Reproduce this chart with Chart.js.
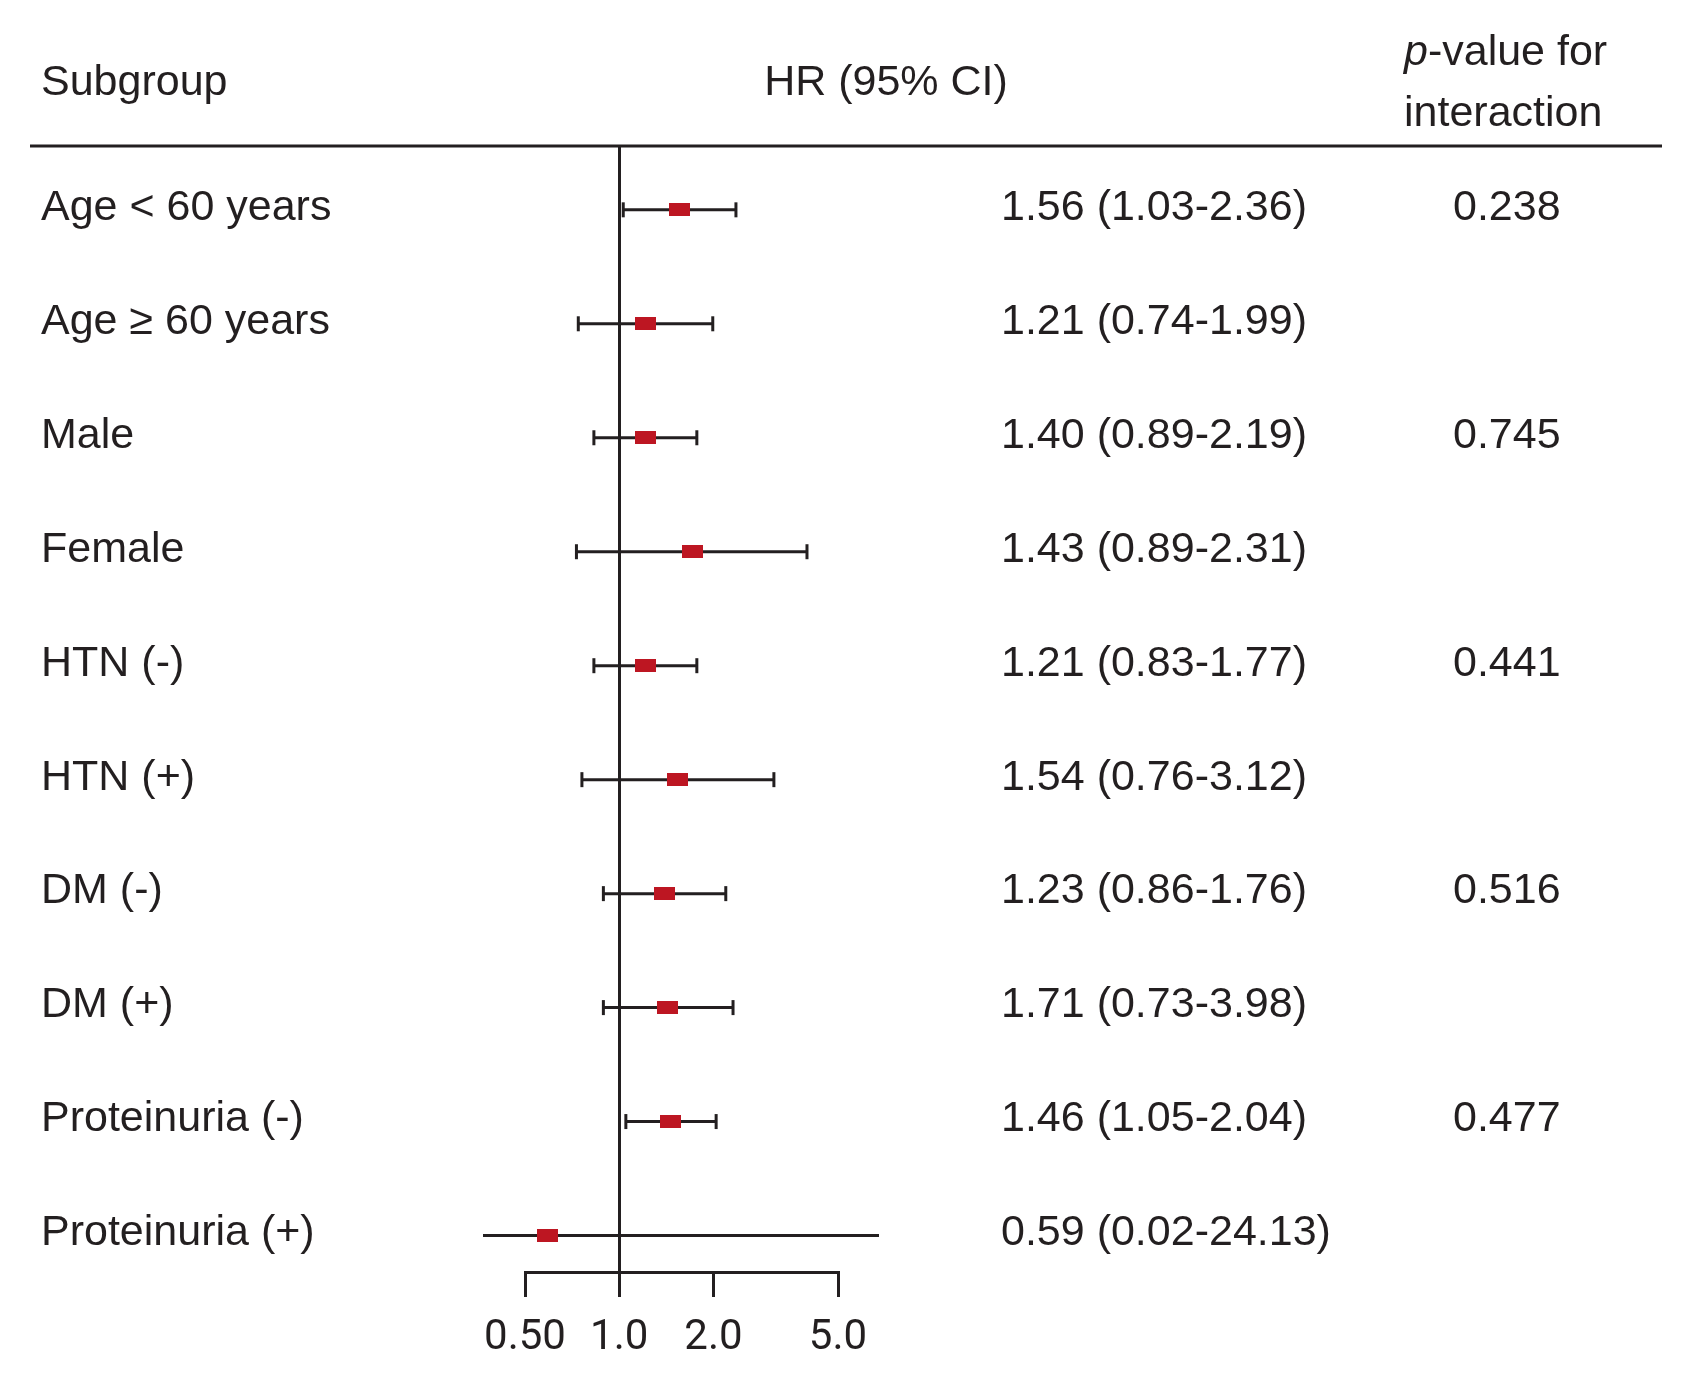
<!DOCTYPE html>
<html>
<head>
<meta charset="utf-8">
<title>Subgroup hazard ratios</title>
<script src="https://cdn.jsdelivr.net/npm/chart.js@4.4.1/dist/chart.umd.min.js"></script>
<style>
  html, body { margin: 0; padding: 0; background: #fff; }
  #wrap { width: 1694px; height: 1380px; }
</style>
</head>
<body>
<div id="wrap"><canvas id="forest" width="1694" height="1380"></canvas></div>
<script>
// Rows, top to bottom.
var subgroups = [
	'Age < 60 years', 'Age \u2265 60 years', 'Male', 'Female', 'HTN (-)',
	'HTN (+)', 'DM (-)', 'DM (+)', 'Proteinuria (-)', 'Proteinuria (+)'
];

// Printed columns.
var hrLabels = [
	'1.56 (1.03-2.36)', '1.21 (0.74-1.99)', '1.40 (0.89-2.19)', '1.43 (0.89-2.31)', '1.21 (0.83-1.77)',
	'1.54 (0.76-3.12)', '1.23 (0.86-1.76)', '1.71 (0.73-3.98)', '1.46 (1.05-2.04)', '0.59 (0.02-24.13)'
];
var pInteraction = ['0.238', '', '0.745', '', '0.441', '', '0.516', '', '0.477', ''];

// Marks as they sit in the plot (read off the picture, not the printed column).
var hrPlotted = [1.56, 1.21, 1.21, 1.71, 1.21, 1.54, 1.40, 1.43, 1.46, 0.59];
var ciLower   = [1.03, 0.74, 0.83, 0.73, 0.83, 0.76, 0.89, 0.89, 1.05, 0.02];
var ciUpper   = [2.36, 1.99, 1.77, 3.98, 1.77, 3.12, 2.19, 2.31, 2.04, 24.13];

// Log axis.
var xTicks = [0.5, 1, 2, 5];
var xTickLabels = ['0.50', '1.0', '2.0', '5.0'];

(function () {
	'use strict';

	var INK = '#231f20';
	var RED = '#bd1622';
	var TEXT_FAMILY = '"Liberation Sans", Arial, sans-serif';
	var LABEL_FONT = { family: TEXT_FAMILY, size: 43 };

	var rows = subgroups.map(function (_, i) { return i; });

	// Point estimate marker: small filled rectangle.
	var box = document.createElement('canvas');
	box.width = 21;
	box.height = 13;
	var bctx = box.getContext('2d');
	bctx.fillStyle = RED;
	bctx.fillRect(0, 0, 21, 13);

	// Lets the open-ended CI run a little past the axis ends.
	var clipWide = { left: 42, right: 41, top: 20, bottom: 20 };

	function rowAxis(position, labels, width, padding, weight) {
		return {
			type: 'linear',
			position: position,
			reverse: true,
			offset: false,
			min: -0.56,
			max: 9.32,
			weight: weight,
			grid: { display: false, drawTicks: false, offset: false },
			border: { display: false },
			afterBuildTicks: function (scale) {
				scale.ticks = rows.map(function (v) { return { value: v }; });
			},
			afterFit: function (scale) {
				// fixed column width; no extra room above/below for labels
				scale.width = width;
				scale.paddingTop = 0;
				scale.paddingBottom = 0;
			},
			ticks: {
				autoSkip: false,
				padding: padding,
				crossAlign: position === 'left' ? 'far' : 'near',
				labelOffset: -2,
				color: INK,
				font: LABEL_FONT,
				callback: function (value) {
					return labels[value] || '';
				},
			},
		};
	}

	var headerPlugin = {
		id: 'tableHeader',
		beforeDraw: function (chart) {
			var ctx = chart.ctx;
			ctx.save();
			ctx.fillStyle = '#fff';
			ctx.fillRect(0, 0, chart.width, chart.height);
			ctx.restore();
		},
		afterDraw: function (chart) {
			var ctx = chart.ctx;
			var top = chart.chartArea.top;
			ctx.save();
			ctx.strokeStyle = INK;
			ctx.lineWidth = 3;
			ctx.beginPath();
			ctx.moveTo(30, top);
			ctx.lineTo(1662, top);
			ctx.stroke();

			ctx.fillStyle = INK;
			ctx.textBaseline = 'alphabetic';
			ctx.font = '43px ' + TEXT_FAMILY;
			ctx.textAlign = 'left';
			ctx.fillText('Subgroup', 41, 95);
			ctx.textAlign = 'center';
			ctx.fillText('HR (95% CI)', 886, 95);

			ctx.textAlign = 'left';
			ctx.font = 'italic 43px ' + TEXT_FAMILY;
			ctx.fillText('p', 1404, 65);
			var pw = ctx.measureText('p').width;
			ctx.font = '43px ' + TEXT_FAMILY;
			ctx.fillText('-value for', 1404 + pw, 65);
			ctx.fillText('interaction', 1404, 126);
			ctx.restore();
		},
	};

	// One short line per row for the confidence interval.
	var ciDatasets = rows.map(function (i) {
		return {
			label: subgroups[i] + ' CI',
			data: [{ x: ciLower[i], y: i }, { x: ciUpper[i], y: i }],
			showLine: true,
			borderColor: INK,
			borderWidth: 3,
			pointRadius: 0,
			clip: clipWide,
		};
	});

	new Chart(document.getElementById('forest'), {
		type: 'scatter',
		data: {
			datasets: [
				{
					label: 'HR',
					data: rows.map(function (i) { return { x: hrPlotted[i], y: i }; }),
					pointStyle: box,
					pointRadius: 10,
					clip: clipWide,
				},
				{
					label: 'CI caps',
					data: rows.reduce(function (acc, i) {
						acc.push({ x: ciLower[i], y: i }, { x: ciUpper[i], y: i });
						return acc;
					}, []),
					pointStyle: 'line',
					pointRotation: 90,
					pointRadius: 7.5,
					pointBorderWidth: 3,
					pointBorderColor: INK,
					clip: clipWide,
				},
			].concat(ciDatasets),
		},
		options: {
			responsive: false,
			animation: false,
			events: [],
			layout: { padding: { left: 41, right: 0, top: 146, bottom: 0 } },
			plugins: {
				legend: { display: false },
				tooltip: { enabled: false },
			},
			scales: {
				x: {
					type: 'logarithmic',
					position: 'bottom',
					offset: false,
					min: 0.5,
					max: 5,
					afterBuildTicks: function (scale) {
						scale.ticks = xTicks.map(function (v) { return { value: v }; });
					},
					afterFit: function (scale) {
						scale.height = 108;
						scale.paddingLeft = 0;
						scale.paddingRight = 0;
					},
					grid: {
						offset: false,
						color: function (ctx) {
							return ctx.tick && ctx.tick.value === 1 ? INK : 'rgba(0,0,0,0)';
						},
						lineWidth: 3,
						tickColor: INK,
						tickWidth: 3,
						tickLength: 25,
					},
					border: { display: true, color: INK, width: 3 },
					ticks: {
						autoSkip: false,
						maxRotation: 0,
						padding: 16,
						color: INK,
						font: { family: 'Roboto, sans-serif', size: 42 },
						callback: function (value, index) {
							return xTickLabels[index];
						},
					},
				},
				y: rowAxis('left', subgroups, 484, 0, 0),
				yHR: rowAxis('right', hrLabels, 510, 163, 0),
				yP: rowAxis('right', pInteraction, 346, 105, 1),
			},
		},
		plugins: [headerPlugin],
	});
}());
</script>
</body>
</html>
